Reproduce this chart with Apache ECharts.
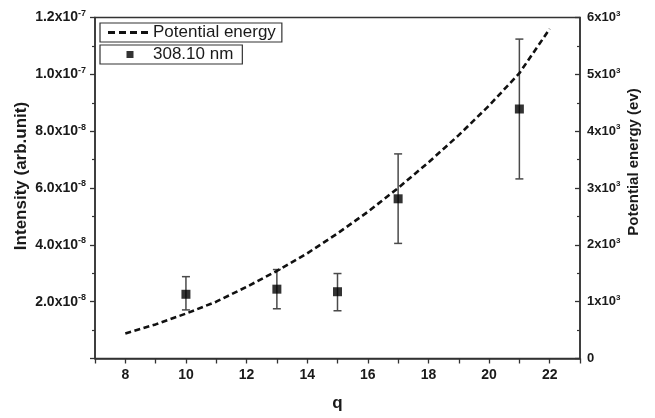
<!DOCTYPE html>
<html>
<head>
<meta charset="utf-8">
<script src="https://cdn.jsdelivr.net/npm/echarts@6/dist/echarts.min.js"></script>
<style>
  html, body { margin: 0; padding: 0; background: #ffffff; }
  #chart { width: 655px; height: 418px; }
</style>
</head>
<body>
<div id="chart"></div>
<script>
// Measured line intensity (308.10 nm) per charge state q, with error limits
const chargeStates   = [10, 13, 15, 17, 21];
const intensity      = [2.26e-8, 2.44e-8, 2.35e-8, 5.62e-8, 8.78e-8];
const intensityLow   = [1.71e-8, 1.75e-8, 1.68e-8, 4.05e-8, 6.32e-8];
const intensityHigh  = [2.88e-8, 3.13e-8, 2.99e-8, 7.20e-8, 11.24e-8];

// Potential energy (eV) against q
const energyQ         = [8, 9, 10, 11, 12, 13, 14, 15, 16, 17, 18, 19, 20, 21, 22];
const potentialEnergy = [440, 600, 790, 1000, 1260, 1540, 1850, 2200, 2580, 3000, 3450, 3930, 4450, 5020, 5800];

// Axis ranges and tick steps
const qRange = [7, 23];
const intensityRange = [0, 1.2e-7];
const intensityStep = 2e-8;
const energyRange = [0, 6000];
const energyStep = 1000;

const FONT = "'Liberation Sans', Arial, Helvetica, sans-serif";
const AXIS_COLOR = '#333';
const TEXT_COLOR = '#1a1a1a';

// Legend glyphs: four short dashes for the curve; a small square centred in a
// 40-wide box (tiny corner specks keep the box width) for the points
const DASH_ICON = 'path://M0 0h7v3h-7z M11 0h7v3h-7z M22 0h7v3h-7z M33 0h7v3h-7z';
const SQUARE_ICON = 'path://M0 0h0.01v0.01h-0.01z M18.5 0.5h7v7h-7z M39.99 7.99h0.01v0.01h-0.01z';

// "m.mx10^e" style labels with a raised exponent
function sciLabel(v, digits) {
  if (Math.abs(v) < 1e-30) return '{b|0}';
  const e = Math.floor(Math.log10(Math.abs(v)) + 1e-9);
  const m = v / Math.pow(10, e);
  return '{b|' + m.toFixed(digits) + 'x10}{s|' + e + '}';
}

function richFor(size) {
  return {
    b: { fontFamily: FONT, fontWeight: 'bold', fontSize: size, color: TEXT_COLOR, lineHeight: size + 3 },
    s: { fontFamily: FONT, fontWeight: 'bold', fontSize: Math.round(size * 0.62), color: TEXT_COLOR,
         lineHeight: Math.round(size * 0.62) + 1, verticalAlign: 'top' }
  };
}

const chart = echarts.init(document.getElementById('chart'), null, { renderer: 'canvas' });

const legendBox = {
  left: 100,
  itemGap: 0,
  symbolKeepAspect: true,
  borderColor: AXIS_COLOR, borderWidth: 1.2, borderRadius: 0,
  textStyle: { fontFamily: FONT, fontSize: 17, color: TEXT_COLOR }
};

const option = {
  backgroundColor: '#ffffff',
  animation: false,
  grid: {
    left: 95, right: 75, top: 17.5, bottom: 59.5,
    show: true, borderColor: AXIS_COLOR, borderWidth: 1.5, backgroundColor: 'transparent'
  },
  legend: [
    Object.assign({}, legendBox, {
      data: [{ name: 'Potential energy', icon: DASH_ICON, itemStyle: { color: '#111' } }],
      top: 23,
      padding: [1, 6, 1, 8],
      itemWidth: 40, itemHeight: 3
    }),
    Object.assign({}, legendBox, {
      data: [{ name: '308.10 nm', icon: SQUARE_ICON, itemStyle: { color: '#000' } }],
      top: 45,
      padding: [1, 9, 1, 8],
      itemWidth: 40, itemHeight: 8
    })
  ],
  xAxis: {
    type: 'value',
    min: qRange[0], max: qRange[1], interval: 1,
    name: 'q', nameLocation: 'middle', nameGap: 36, nameMoveOverlap: false,
    nameTextStyle: { fontFamily: FONT, fontWeight: 'bold', fontSize: 17, color: TEXT_COLOR },
    axisLine: { show: true, lineStyle: { color: AXIS_COLOR, width: 1.5 } },
    axisTick: { show: true, inside: false, length: 5, lineStyle: { color: AXIS_COLOR, width: 1.3 } },
    axisLabel: {
      margin: 10,
      fontFamily: FONT, fontWeight: 'bold', fontSize: 14, color: TEXT_COLOR,
      formatter: v => (Math.round(v) % 2 === 0 ? String(Math.round(v)) : '')
    },
    splitLine: { show: false }
  },
  yAxis: [
    {
      type: 'value', position: 'left',
      min: intensityRange[0], max: intensityRange[1], interval: intensityStep,
      name: 'Intensity (arb.unit)', nameLocation: 'middle', nameGap: 65, nameMoveOverlap: false,
      nameTextStyle: { fontFamily: FONT, fontWeight: 'bold', fontSize: 17, color: TEXT_COLOR,
                       padding: [0, 0, 0, 24] },
      axisLine: { show: true, lineStyle: { color: AXIS_COLOR, width: 1.5 } },
      axisTick: { show: true, inside: false, length: 5, lineStyle: { color: AXIS_COLOR, width: 1.3 } },
      minorTick: { show: true, splitNumber: 2, length: 3, lineStyle: { color: AXIS_COLOR, width: 1.2 } },
      axisLabel: {
        margin: 9,
        formatter: v => (v <= 0 ? '' : sciLabel(v, 1)),
        rich: richFor(14)
      },
      splitLine: { show: false }
    },
    {
      type: 'value', position: 'right',
      min: energyRange[0], max: energyRange[1], interval: energyStep,
      name: 'Potential energy (ev)', nameLocation: 'middle', nameGap: 46, nameRotate: 90,
      nameMoveOverlap: false,
      nameTextStyle: { fontFamily: FONT, fontWeight: 'bold', fontSize: 15, color: TEXT_COLOR,
                       padding: [0, 0, 0, 52] },
      axisLine: { show: true, lineStyle: { color: AXIS_COLOR, width: 1.5 } },
      axisTick: { show: true, inside: true, length: 5, lineStyle: { color: AXIS_COLOR, width: 1.3 } },
      minorTick: { show: true, splitNumber: 2, length: 3, lineStyle: { color: AXIS_COLOR, width: 1.2 } },
      axisLabel: {
        margin: 7,
        formatter: v => sciLabel(v, 0),
        rich: richFor(13)
      },
      splitLine: { show: false }
    }
  ],
  series: [
    {
      name: 'Potential energy',
      type: 'line',
      xAxisIndex: 0, yAxisIndex: 1,
      data: energyQ.map((q, i) => [q, potentialEnergy[i]]),
      symbol: 'none',
      smooth: false,
      lineStyle: { color: '#111', width: 2.6, type: [6, 3.5] },
      itemStyle: { color: '#111' },
      z: 3
    },
    {
      name: 'error',
      type: 'custom',
      xAxisIndex: 0, yAxisIndex: 0,
      data: chargeStates.map((q, i) => [q, intensityLow[i], intensityHigh[i]]),
      encode: { x: 0, y: [1, 2] },
      silent: true,
      renderItem: (params, api) => {
        const lo = api.coord([api.value(0), api.value(1)]);
        const hi = api.coord([api.value(0), api.value(2)]);
        const w = 4;
        const style = { stroke: '#4a4a4a', lineWidth: 1.5, fill: null };
        return {
          type: 'group',
          children: [
            { type: 'line', shape: { x1: lo[0], y1: lo[1], x2: hi[0], y2: hi[1] }, style },
            { type: 'line', shape: { x1: lo[0] - w, y1: lo[1], x2: lo[0] + w, y2: lo[1] }, style },
            { type: 'line', shape: { x1: hi[0] - w, y1: hi[1], x2: hi[0] + w, y2: hi[1] }, style }
          ]
        };
      },
      z: 2
    },
    {
      name: '308.10 nm',
      type: 'scatter',
      xAxisIndex: 0, yAxisIndex: 0,
      data: chargeStates.map((q, i) => [q, intensity[i]]),
      symbol: 'rect',
      symbolSize: 9,
      itemStyle: { color: '#000' },
      z: 4
    }
  ]
};

chart.setOption(option);
</script>
</body>
</html>
